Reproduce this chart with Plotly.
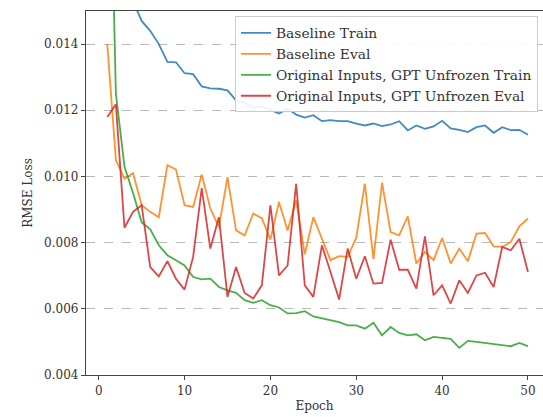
import plotly.graph_objects as go

epochs = list(range(1, 51))

baseline_train = [0.0250, 0.0190, 0.0165, 0.0153, 0.0147, 0.0144, 0.0140, 0.01346, 0.01345, 0.01312,
                  0.01309, 0.01272, 0.01266, 0.01265, 0.0126, 0.0123, 0.01222, 0.01208, 0.01212, 0.01200,
                  0.01190, 0.01205, 0.01187, 0.01178, 0.01185, 0.01167, 0.01170, 0.01167, 0.01167, 0.01160,
                  0.01154, 0.01160, 0.01152, 0.01157, 0.01167, 0.01139, 0.01154, 0.01144, 0.01151, 0.01168,
                  0.01145, 0.01141, 0.01134, 0.01149, 0.01154, 0.01132, 0.01149, 0.01140, 0.01141, 0.01126]

baseline_eval = [0.0140, 0.0105, 0.00993, 0.0101, 0.00913, 0.00893, 0.00877, 0.01034, 0.01021, 0.00913,
                 0.00908, 0.01006, 0.00903, 0.00847, 0.00998, 0.00837, 0.00822, 0.00888, 0.00874, 0.00809,
                 0.00923, 0.00837, 0.00928, 0.00765, 0.00877, 0.00809, 0.00747, 0.00759, 0.00757, 0.00815,
                 0.00978, 0.00750, 0.00981, 0.00832, 0.00822, 0.00879, 0.00737, 0.00772, 0.00747, 0.00814,
                 0.00737, 0.00782, 0.00744, 0.00827, 0.00829, 0.00789, 0.00787, 0.00802, 0.00849, 0.00873]

gpt_train = [0.0240, 0.0125, 0.0103, 0.0095, 0.00862, 0.0084, 0.00792, 0.00762, 0.00747, 0.00731,
             0.00696, 0.00689, 0.00691, 0.00666, 0.00656, 0.00648, 0.00626, 0.00618, 0.00626, 0.00611,
             0.00604, 0.00586, 0.00587, 0.00593, 0.00577, 0.00572, 0.00567, 0.00560, 0.00550, 0.00550,
             0.00540, 0.00558, 0.00520, 0.00545, 0.00527, 0.00520, 0.00523, 0.00505, 0.00515, 0.00512,
             0.00509, 0.00482, 0.00503, 0.00500, 0.00497, 0.00493, 0.00489, 0.00487, 0.00497, 0.00487]

gpt_eval = [0.01180, 0.01218, 0.00845, 0.00893, 0.00913, 0.00726, 0.00698, 0.00744, 0.00691, 0.00658,
            0.00757, 0.00965, 0.00782, 0.00877, 0.00636, 0.00726, 0.00648, 0.00631, 0.00671, 0.00913,
            0.00701, 0.00731, 0.00978, 0.00671, 0.00636, 0.00792, 0.00711, 0.00628, 0.00782, 0.00691,
            0.00759, 0.00676, 0.00678, 0.00809, 0.00718, 0.00718, 0.00661, 0.00819, 0.00641, 0.00671,
            0.00616, 0.00686, 0.00648, 0.00701, 0.00709, 0.00666, 0.00787, 0.00777, 0.00812, 0.00711]

series_names = ["Baseline Train", "Baseline Eval",
                "Original Inputs, GPT Unfrozen Train", "Original Inputs, GPT Unfrozen Eval"]
series_values = [baseline_train, baseline_eval, gpt_train, gpt_eval]
colors = ["#1f77b4", "#ff7f0e", "#2ca02c", "#d62728"]

y_ticks = [0.004, 0.006, 0.008, 0.010, 0.012, 0.014]
x_ticks = [0, 10, 20, 30, 40, 50]

FONT = "DejaVu Serif"
AX = "#444444"
TXT = "#333333"

fig = go.Figure()
for name, vals, c in zip(series_names, series_values, colors):
    fig.add_trace(go.Scatter(x=epochs, y=vals, mode="lines", name=name,
                             line=dict(color=c, width=1.8), opacity=0.85))

fig.update_layout(
    width=543, height=417,
    margin=dict(l=86, r=0, t=11, b=42),
    paper_bgcolor="white", plot_bgcolor="white",
    font=dict(family=FONT, size=12, color=TXT),
    showlegend=True,
    legend=dict(x=0.326, y=0.985, xanchor="left", yanchor="top",
                bgcolor="rgba(255,255,255,0.9)", bordercolor="#cccccc", borderwidth=1,
                font=dict(family=FONT, size=13.8, color=TXT),
                tracegroupgap=0, itemwidth=30),
    xaxis=dict(range=[-1.48, 51.75], tickvals=x_ticks, showgrid=False, zeroline=False,
               showline=True, linecolor=AX, linewidth=1.3, mirror=True,
               ticks="outside", ticklen=4, tickwidth=1, tickcolor=AX,
               tickfont=dict(family=FONT, size=12, color=TXT),
               title=dict(text="Epoch", standoff=5, font=dict(family=FONT, size=12, color=TXT))),
    yaxis=dict(range=[0.004, 0.015], tickvals=y_ticks, tickformat=".3f",
               showgrid=True, gridcolor="#b8b8b8", gridwidth=0.8, griddash="dash",
               zeroline=False, showline=True, linecolor=AX, linewidth=1.3,
               ticks="outside", ticklen=4, tickwidth=1, tickcolor=AX,
               tickfont=dict(family=FONT, size=12, color=TXT),
               title=dict(text="RMSE Loss", standoff=8, font=dict(family=FONT, size=12, color=TXT))),
)

fig.write_html("out.html")
